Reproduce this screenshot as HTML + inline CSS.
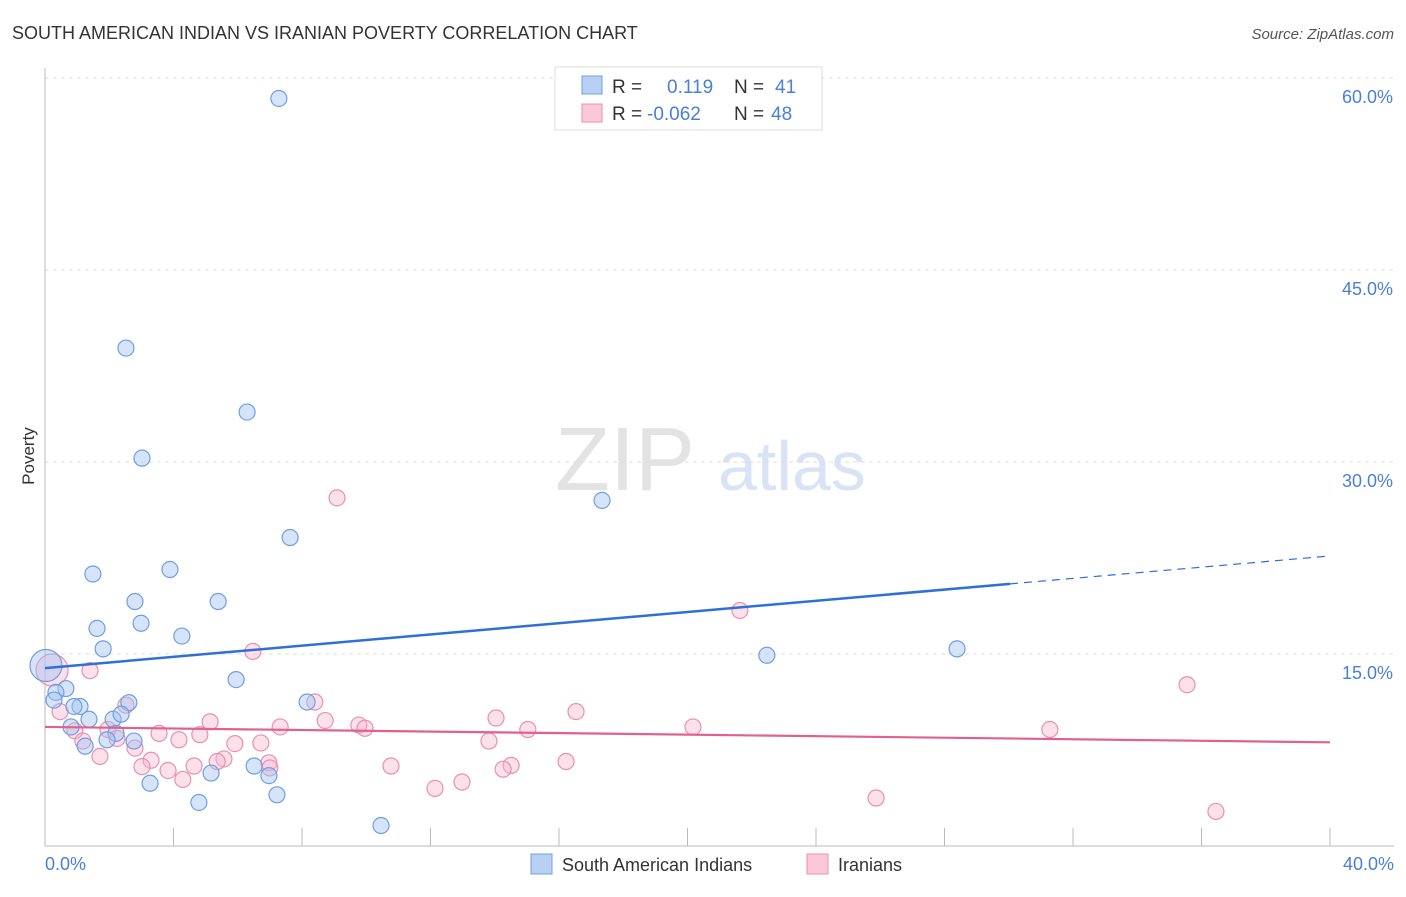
<!DOCTYPE html>
<html><head><meta charset="utf-8"><style>
body{margin:0;background:#fff;font-family:"Liberation Sans",sans-serif;}
svg text{font-family:"Liberation Sans",sans-serif;}
</style></head><body>
<svg id="chart" width="1406" height="892" xmlns="http://www.w3.org/2000/svg">
<text x="12" y="39" font-size="18" fill="#333">SOUTH AMERICAN INDIAN VS IRANIAN POVERTY CORRELATION CHART</text>
<text x="1394" y="39" font-size="15" fill="#555" font-style="italic" text-anchor="end">Source: ZipAtlas.com</text>
<g>
<text x="555" y="490" font-size="90" fill="#e3e3e3" font-family="Liberation Serif">ZIP</text>
<text x="718" y="490" font-size="70" fill="#d8e4f5">atlas</text>
</g>
<g id="grid"></g>
<g id="axes"></g>
<g id="points"></g>
<g id="trends"></g>
<text x="34" y="456" font-size="17" fill="#333" text-anchor="middle" transform="rotate(-90 34 456)">Poverty</text>
<text x="45" y="870" font-size="18" fill="#4a7fd6">0.0%</text>
<text x="1394" y="870" font-size="18" fill="#4a7fd6" text-anchor="end">40.0%</text>
<g>
<rect x="555" y="67" width="267" height="63" fill="#fff" stroke="#ddd"/>
<rect x="582" y="76" width="20" height="18" fill="#b9d0f5" stroke="#6f9fe0"/>
<rect x="582" y="104" width="20" height="18" fill="#fbc8d8" stroke="#e890b0"/>
<text y="93" font-size="19"><tspan x="612" fill="#333">R =</tspan><tspan x="667" fill="#4a7fd6">0.119</tspan><tspan x="734" fill="#333">N =</tspan><tspan x="775" fill="#4a7fd6">41</tspan></text>
<text y="120" font-size="19"><tspan x="612" fill="#333">R =</tspan><tspan x="647" fill="#4a7fd6">-0.062</tspan><tspan x="734" fill="#333">N =</tspan><tspan x="771" fill="#4a7fd6">48</tspan></text>
</g>
<g>
<rect x="531" y="854" width="21" height="20" fill="#b9d0f5" stroke="#6f9fe0"/>
<text x="562" y="871" font-size="18" fill="#333">South American Indians</text>
<rect x="807" y="854" width="21" height="20" fill="#fbc8d8" stroke="#e890b0"/>
<text x="838" y="871" font-size="18" fill="#333">Iranians</text>
</g>
</svg>
<script>
const yTicks=[15,30,45,60];
const yTickLabels=["15.0%","30.0%","45.0%","60.0%"];
const xTicks=[0,4,8,12,16,20,24,28,32,36,40];
const blueX=[7.28,2.52,6.29,3.02,17.34,7.63,1.49,3.89,2.80,5.39,1.62,2.99,4.26,1.81,22.47,28.39,0.03,5.95,0.65,0.34,0.28,1.09,0.90,2.61,8.16,1.37,2.12,2.37,0.81,2.21,1.93,2.77,1.25,6.51,5.17,6.97,3.27,7.22,4.79,10.46];
const blueY=[58.4,38.9,33.9,30.3,27.0,24.1,21.25,21.6,19.1,19.1,17.0,17.4,16.4,15.4,14.9,15.4,14.1,13.0,12.3,12.0,11.4,10.9,10.9,11.2,11.25,9.9,9.9,10.3,9.3,8.8,8.3,8.2,7.8,6.25,5.7,5.5,4.9,4.0,3.4,1.6];
const pinkX=[9.09,21.63,6.47,1.40,35.55,0.22,2.52,8.40,0.47,5.14,8.72,14.04,16.53,7.32,9.77,9.96,15.03,20.17,31.28,0.93,1.96,3.55,4.82,4.17,2.24,1.18,5.91,6.72,13.82,2.80,1.71,3.30,5.57,5.36,6.97,10.77,14.51,16.22,3.02,4.64,3.83,14.26,7.00,4.29,12.98,12.14,25.87,36.45];
const pinkY=[27.2,18.4,15.2,13.7,12.6,13.75,11.0,11.25,10.5,9.7,9.8,10.0,10.5,9.3,9.45,9.2,9.1,9.3,9.1,9.0,9.1,8.8,8.7,8.3,8.4,8.2,8.0,8.05,8.2,7.65,7.0,6.7,6.8,6.6,6.5,6.25,6.3,6.6,6.2,6.25,5.9,6.0,6.1,5.2,5.0,4.5,3.75,2.7];
const blueTrend=[13.9,22.66]; const blueSolidEnd=30.04;
const pinkTrend=[9.3,8.1];
const NS="http://www.w3.org/2000/svg";
const sx=v=>45+v*32.125, sy=v=>846-v*12.8;
function mk(tag,attrs,parent){const e=document.createElementNS(NS,tag);for(const k in attrs)e.setAttribute(k,attrs[k]);document.getElementById(parent).appendChild(e);return e;}
yTicks.forEach((t,i)=>{
 const l=mk('line',{x1:45,x2:1394,y1:sy(t),y2:sy(t),stroke:'#ddd','stroke-dasharray':'4,4'},'grid');
 
 
 const tx=mk('text',{x:1393,y:sy(t)+25,'font-size':18,fill:'#4a7fd6','text-anchor':'end'},'grid');
 tx.textContent=yTickLabels[i];
 
 
});
let a=mk('line',{x1:45,x2:45,y1:68,y2:846,stroke:'#bbb'},'axes');


a=mk('line',{x1:45,x2:1394,y1:846,y2:846,stroke:'#bbb'},'axes');


xTicks.forEach(t=>{
 const l=mk('line',{x1:sx(t),x2:sx(t),y1:828,y2:846,stroke:'#bbb'},'axes');
 
 
});
function pts(xs,ys,fill,stroke,name){
 xs.forEach((x,i)=>{
  const big=(x<0.3&&ys[i]>13.5);
  const c=mk('circle',{cx:sx(x),cy:sy(ys[i]),r:big?16:8,fill:fill,stroke:stroke,'stroke-width':1.2},'points');
  
  
 });
}
pts(pinkX,pinkY,'rgba(248,180,205,0.4)','#e890b0','iranians-point');
pts(blueX,blueY,'rgba(165,195,245,0.45)','#6f9fe0','south-american-indians-point');
const lin=(tr,x)=>tr[0]+(tr[1]-tr[0])*x/40;
let t=mk('line',{x1:sx(0),y1:sy(lin(blueTrend,0)),x2:sx(blueSolidEnd),y2:sy(lin(blueTrend,blueSolidEnd)),stroke:'#2f6fd8','stroke-width':2.5},'trends');


t=mk('line',{x1:sx(blueSolidEnd),y1:sy(lin(blueTrend,blueSolidEnd)),x2:sx(40),y2:sy(lin(blueTrend,40)),stroke:'#2f6fd8','stroke-width':1.2,'stroke-dasharray':'8,6'},'trends');


t=mk('line',{x1:sx(0),y1:sy(pinkTrend[0]),x2:sx(40),y2:sy(pinkTrend[1]),stroke:'#e0608f','stroke-width':2.2},'trends');


</script>
</body></html>
